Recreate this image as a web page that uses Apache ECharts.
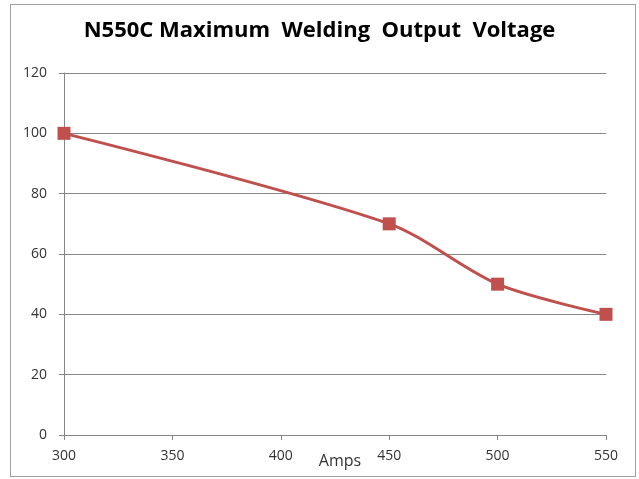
<!DOCTYPE html>
<html>
<head>
<meta charset="utf-8">
<script src="https://cdn.jsdelivr.net/npm/echarts@6/dist/echarts.min.js"></script>
<style>
  html, body { margin: 0; padding: 0; background: #fff; }
  #container { width: 639px; height: 479px; position: relative; }
  #frame { position: absolute; left: 10px; top: 4px; width: 626px; height: 473px;
           border: 1px solid #a0a0a0; box-sizing: border-box; pointer-events: none; }
</style>
</head>
<body>
<div id="container"></div>
<div id="frame"></div>
<script>
// data
let amps = [300, 450, 500, 550];
let volts = [100, 70, 50, 40];

let dom = document.getElementById("container");
let myChart = echarts.init(dom, null, { renderer: "canvas" });

let points = [];
for (let i = 0; i < amps.length; i++) {
  points.push([amps[i], volts[i]]);
}

let axisColor = "#868686";
let labelColor = "#333333";

let option = {
  animation: false,
  title: {
    text: "N550C Maximum  Welding  Output  Voltage",
    left: "center",
    top: 15,
    textStyle: {
      fontFamily: "Open Sans",
      fontWeight: "bold",
      fontSize: 22,
      color: "#000000",
    },
  },
  grid: {
    left: 64,
    right: 33,
    top: 73,
    bottom: 44,
    outerBoundsMode: "none",
  },
  xAxis: {
    type: "value",
    min: 300,
    max: 550,
    interval: 50,
    name: "Amps",
    nameLocation: "middle",
    nameGap: 18,
    nameMoveOverlap: false,
    nameTextStyle: {
      fontFamily: "Open Sans",
      fontSize: 16,
      color: labelColor,
      padding: [0, 0, 0, 10],
    },
    axisLine: { lineStyle: { color: axisColor, width: 1 } },
    axisTick: { show: true, length: 5, lineStyle: { color: axisColor } },
    axisLabel: { fontFamily: "Open Sans", fontSize: 14, color: labelColor, margin: 14 },
    splitLine: { show: false },
  },
  yAxis: {
    type: "value",
    min: 0,
    max: 120,
    interval: 20,
    axisLine: { show: true, lineStyle: { color: axisColor, width: 1 } },
    axisTick: { show: true, length: 5, lineStyle: { color: axisColor } },
    axisLabel: { fontFamily: "Open Sans", fontSize: 14, color: labelColor, margin: 17 },
    splitLine: { show: true, lineStyle: { color: axisColor, width: 1 } },
  },
  series: [
    {
      name: "Voltage",
      type: "line",
      data: points,
      smooth: 0.3,
      symbol: "rect",
      symbolSize: 13,
      lineStyle: { color: "#c0504d", width: 3 },
      itemStyle: { color: "#c0504d" },
    },
  ],
};

myChart.setOption(option);
window.addEventListener("resize", myChart.resize);
</script>
</body>
</html>
